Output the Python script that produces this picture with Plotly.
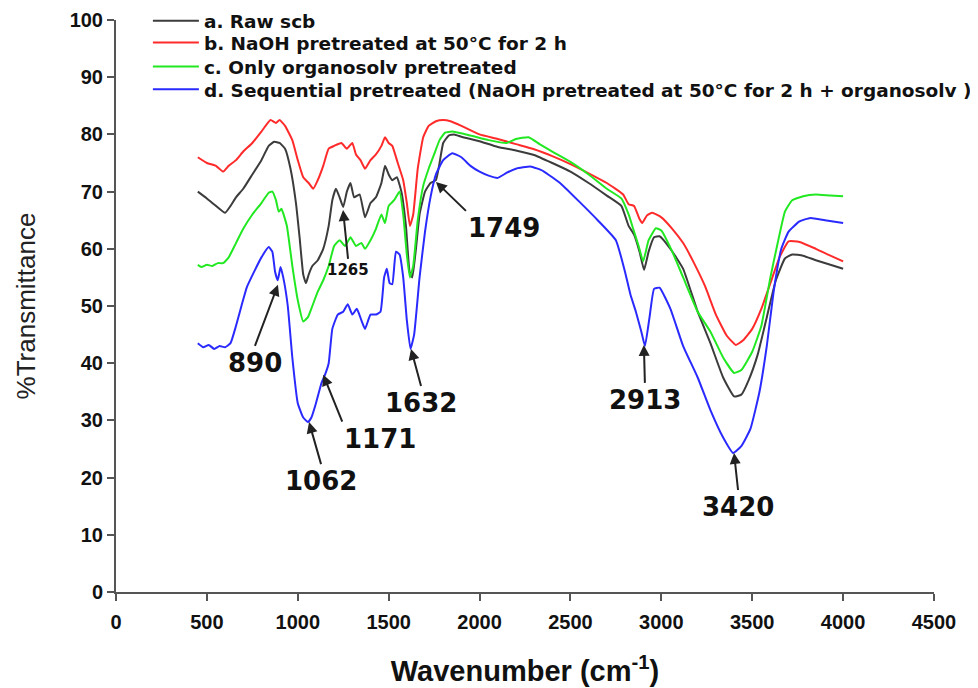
import plotly.graph_objects as go

# ---------------- data ----------------
raw_x = [450, 500, 550, 600, 630, 660, 700, 750, 800, 840, 870, 900, 930, 960, 990, 1010, 1030, 1045, 1060, 1080,
         1110, 1140, 1170, 1190, 1210, 1230, 1250, 1270, 1290, 1310, 1340, 1370, 1400, 1430, 1460, 1480, 1500, 1520,
         1545, 1570, 1595, 1615, 1630, 1650, 1670, 1700, 1730, 1760, 1780, 1800, 1830, 1860, 1900, 2000, 2100, 2200,
         2300, 2400, 2500, 2600, 2700, 2780, 2820, 2850, 2880, 2905, 2930, 2960, 2990, 3050, 3120, 3200, 3270, 3340,
         3400, 3440, 3480, 3530, 3580, 3630, 3680, 3720, 3780, 3850, 3930, 4000]
raw_y = [70, 68.8, 67.5, 66.3, 67.5, 69, 70.5, 73, 75.5, 78, 78.7, 78.5, 77.5, 74, 68, 62, 55.5, 54, 55.5, 57,
         58, 60, 64, 68.5, 70.5, 69, 67.3, 70, 71.5, 69, 69.5, 65.5, 68, 69, 71.5, 74.5, 73, 72,
         72.5, 70, 64, 56, 55, 60, 66, 70, 71.5, 72, 75, 78.5, 79.8, 80, 79.6, 78.8, 77.8, 77.2,
         76.4, 75, 73.5, 71.5, 69.3, 67.5, 64, 62.5, 59.5, 56.3, 59.5, 62, 62.2, 60, 56.5, 49, 43.5, 37.5,
         34.2, 34.5, 37, 41.5, 48, 54.5, 58.3, 59, 58.8, 58, 57.2, 56.5]

naoh_x = [450, 500, 550, 590, 620, 660, 700, 750, 800, 850, 880, 900, 930, 970, 1000, 1030, 1060, 1085, 1110, 1140,
          1170, 1200, 1240, 1270, 1300, 1320, 1345, 1370, 1400, 1430, 1460, 1480, 1500, 1520, 1550, 1580, 1600, 1617,
          1635, 1660, 1690, 1720, 1760, 1800, 1840, 1900, 2000, 2100, 2200, 2300, 2400, 2500, 2600, 2700, 2790, 2820,
          2850, 2880, 2895, 2920, 2950, 3000, 3060, 3120, 3180, 3240, 3300, 3360, 3410, 3450, 3500, 3550, 3600, 3650,
          3700, 3760, 3850, 3930, 4000]
naoh_y = [76, 75, 74.5, 73.5, 74.5, 75.5, 77, 78.5, 80.5, 82.5, 82, 82.5, 81.5, 79, 75.5, 72.5, 71.5, 70.5, 72, 74.5,
          77.5, 78, 78.5, 77.5, 78.5, 76.5, 75.5, 74, 75.5, 76.5, 78, 79.5, 78.5, 78, 75, 72, 68, 64,
          66, 74, 79.5, 81.5, 82.3, 82.5, 82.3, 81.5, 80, 79.2, 78.3, 77.4, 76.2, 74.8, 73.2, 71.5, 69.5, 67.8,
          67.5, 65.2, 64.5, 65.8, 66.3, 65.5, 63.5, 61, 57.5, 53.5, 48.5, 44.8, 43.2, 44, 46, 49.5, 54, 58.5,
          61.3, 61.2, 60, 58.8, 57.8]

org_x = [450, 470, 500, 530, 560, 590, 620, 660, 700, 750, 800, 840, 860, 880, 895, 910, 940, 970, 1000, 1030,
         1055, 1080, 1110, 1140, 1170, 1200, 1230, 1260, 1290, 1320, 1350, 1370, 1400, 1430, 1460, 1480, 1500, 1530,
         1560, 1580, 1600, 1617, 1635, 1660, 1690, 1720, 1750, 1780, 1810, 1850, 1950, 2050, 2150, 2200, 2270, 2330,
         2400, 2500, 2600, 2700, 2780, 2820, 2845, 2875, 2900, 2930, 2970, 3000, 3060, 3120, 3200, 3270, 3340, 3400,
         3440, 3500, 3550, 3600, 3640, 3680, 3720, 3780, 3850, 3930, 4000]
org_y = [57.2, 56.8, 57.2, 57, 57.5, 57.5, 58.5, 61, 63.5, 66, 68, 69.8, 70, 68.5, 66.5, 67, 64, 57, 51, 47.3,
         48, 50, 52.5, 54.5, 57, 60.5, 61.5, 60.5, 62, 60.5, 61, 60, 61.5, 63.5, 66, 64.5, 67.5, 68.5,
         70, 66, 59, 55, 57, 65, 71, 74, 76.5, 79, 80.3, 80.5, 79.8, 79, 78.5, 79.2, 79.5, 78.3,
         77, 75.2, 73, 70.5, 68.8, 66, 63.5, 60.5, 57.8, 61.5, 63.6, 63.2, 59.5, 55, 49, 45.5, 41, 38.3,
         38.8, 42, 46.5, 55, 61, 66.5, 68.5, 69.2, 69.5, 69.3, 69.2]

seq_x = [450, 480, 510, 540, 570, 600, 630, 660, 690, 720, 760, 800, 840, 860, 875, 890, 905, 920, 945, 970,
         1000, 1030, 1056, 1075, 1100, 1130, 1150, 1170, 1190, 1220, 1250, 1275, 1300, 1325, 1350, 1370, 1400, 1430,
         1455, 1475, 1490, 1505, 1520, 1540, 1560, 1580, 1600, 1620, 1640, 1670, 1700, 1730, 1760, 1800, 1850, 1900,
         1950, 2000, 2050, 2100, 2150, 2200, 2280, 2350, 2450, 2550, 2650, 2750, 2800, 2830, 2860, 2890, 2910, 2935,
         2960, 2990, 3050, 3120, 3200, 3270, 3340, 3395, 3440, 3490, 3540, 3580, 3620, 3660, 3700, 3760, 3820, 3900,
         4000]
seq_y = [43.5, 42.8, 43.2, 42.5, 43, 42.8, 43.5, 46.5, 50, 53.3, 56, 58.5, 60.3, 59.5, 56, 54.5, 56.8, 55, 50, 41,
         33, 30.5, 29.7, 30.5, 33, 36.5, 38, 40, 46, 48.5, 49, 50.3, 48.5, 49.5, 47.5, 46, 48.5, 48.5,
         49, 55, 56.5, 54, 53.8, 59.5, 59, 55, 47.5, 42.5, 45, 55, 63, 69, 73, 75.5, 76.7, 76,
         74.5, 73.5, 72.8, 72.4, 73.3, 74, 74.4, 73.6, 71.3, 68.2, 65, 61.5, 56, 52, 49, 45.5, 43, 48,
         53, 53.2, 49.5, 43, 37.5, 31.8, 27, 24.3, 25.5, 28.5, 35, 43, 53, 60, 63, 64.8, 65.4, 65,
         64.5]

series_names = ["a. Raw scb",
                "b. NaOH pretreated at 50°C for 2 h",
                "c. Only organosolv pretreated",
                "d. Sequential pretreated (NaOH pretreated at 50°C for 2 h + organosolv )"]

peak_labels = ["890", "1062", "1171", "1265", "1632", "1749", "2913", "3420"]
peak_x = [891, 1062, 1140, 1249, 1623, 1760, 2904, 3400]
peak_y = [53.7, 29.7, 38.0, 66.8, 42.5, 71.7, 43.2, 24.3]

x_ticks = [0, 500, 1000, 1500, 2000, 2500, 3000, 3500, 4000, 4500]
y_ticks = [0, 10, 20, 30, 40, 50, 60, 70, 80, 90, 100]

# ---------------- figure ----------------
colors = ["#3c3c3c", "#ff2a2a", "#22e822", "#2a2aff"]
legend_ids = ["legend", "legend2", "legend3", "legend4"]
legend_rows_y = [0.998, 0.960, 0.918, 0.878]

fig = go.Figure()
for name, xs, ys, c, lid in zip(series_names, [raw_x, naoh_x, org_x, seq_x], [raw_y, naoh_y, org_y, seq_y],
                                colors, legend_ids):
    fig.add_trace(go.Scatter(x=xs, y=ys, mode="lines", name=name, legend=lid,
                             line=dict(color=c, width=2, shape="spline", smoothing=0.4)))

# arrow offsets (pixels), anchors and font sizes for labels
label_style = {
    "890": dict(ax=-23, ay=61, xanchor="center", yanchor="top", size=26),
    "1062": dict(ax=12, ay=42, xanchor="center", yanchor="top", size=26),
    "1171": dict(ax=19, ay=47, xanchor="left", yanchor="top", size=26),
    "1265": dict(ax=5, ay=49, xanchor="center", yanchor="top", size=15),
    "1632": dict(ax=10, ay=37, xanchor="center", yanchor="top", size=26),
    "1749": dict(ax=30, ay=29, xanchor="left", yanchor="top", size=26),
    "2913": dict(ax=1, ay=38, xanchor="center", yanchor="top", size=26),
    "3420": dict(ax=4, ay=37, xanchor="center", yanchor="top", size=26),
}
for lab, px, py in zip(peak_labels, peak_x, peak_y):
    s = label_style[lab]
    fig.add_annotation(x=px, y=py, xref="x", yref="y", text=lab, showarrow=True,
                       ax=s["ax"], ay=s["ay"], xanchor=s["xanchor"], yanchor=s["yanchor"],
                       arrowhead=2, arrowsize=1.1, arrowwidth=2, arrowcolor="#222222",
                       font=dict(family="DejaVu Sans", size=s["size"], color="#111111", weight="bold"))

axis_common = dict(showline=True, linecolor="#555555", linewidth=2, ticks="outside", ticklen=7,
                   tickwidth=2, tickcolor="#555555", showgrid=False, zeroline=False, automargin=False)
fig.update_xaxes(range=[0, 4500], tickvals=x_ticks, ticktext=[str(v) for v in x_ticks],
                 ticklabelstandoff=4,
                 tickfont=dict(family="Liberation Sans", size=20, color="#111111", weight="bold"),
                 title=dict(text="Wavenumber (cm<sup>-1</sup>)", standoff=29,
                            font=dict(family="Liberation Sans", size=29, color="#111111", weight="bold")),
                 **axis_common)
fig.update_yaxes(range=[0, 100], tickvals=y_ticks, ticktext=[str(v) for v in y_ticks],
                 tickfont=dict(family="Liberation Sans", size=20, color="#111111", weight="bold"),
                 title=dict(text="%Transmittance", standoff=27,
                            font=dict(family="Liberation Sans", size=26, color="#222222")),
                 **axis_common)

legend_font = dict(family="DejaVu Sans", size=18.5, color="#111111", weight="bold")
legend_layout = {}
for lid, ly in zip(legend_ids, legend_rows_y):
    legend_layout[lid] = dict(x=0.039, y=ly, xanchor="left", yanchor="middle", bgcolor="rgba(0,0,0,0)",
                              font=legend_font, itemwidth=46)

# page body has an 8 px margin, so the figure is sized to fit inside the window
fig.update_layout(
    width=970, height=680,
    margin=dict(l=108, r=44, t=12, b=96, autoexpand=False),
    plot_bgcolor="white", paper_bgcolor="white",
    showlegend=True,
    **legend_layout,
)

fig.write_html("out.html")
